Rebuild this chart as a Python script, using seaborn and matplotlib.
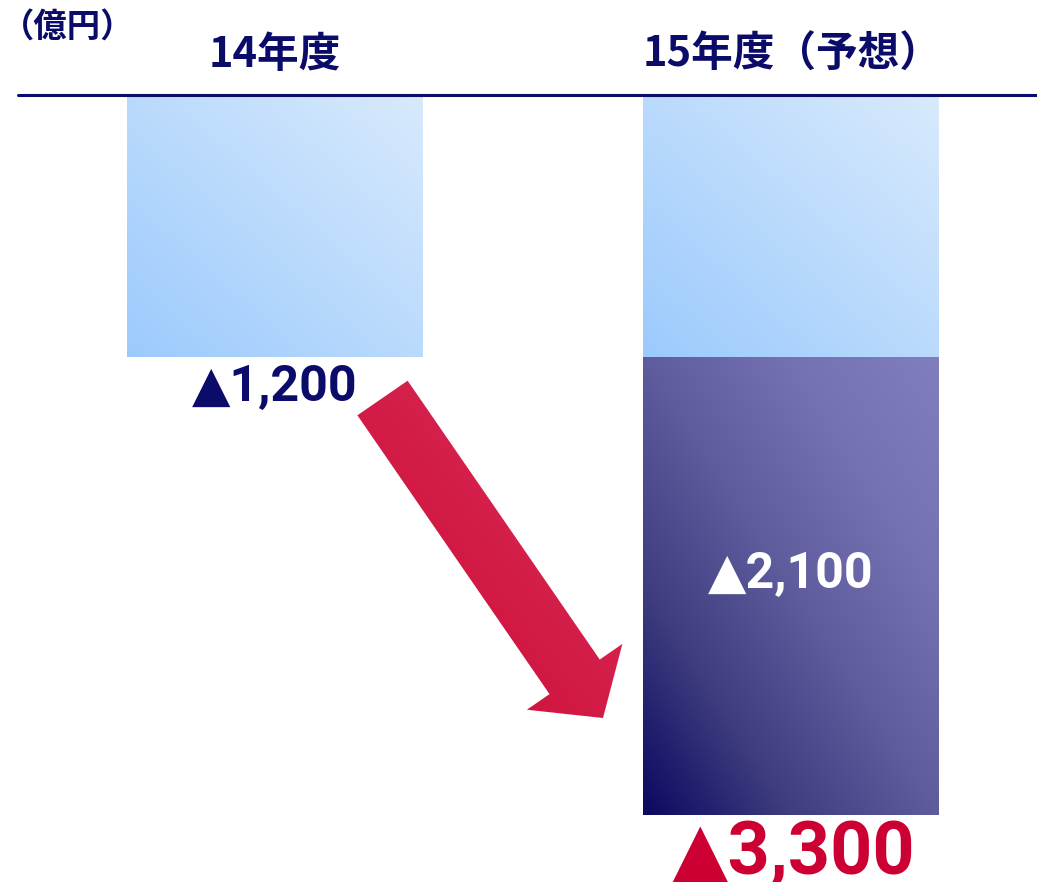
import numpy as np
import pandas as pd
import matplotlib
matplotlib.use("Agg")
import matplotlib.pyplot as plt
import seaborn as sns
from matplotlib.patches import FancyArrow
from matplotlib.colors import LinearSegmentedColormap

# 損失額（億円）
years = ["14年度", "15年度（予想）"]
base_loss = [1200, 1200]     # 14年度水準
added_loss = [0, 2100]       # 15年度の追加分
total_loss = [b + a for b, a in zip(base_loss, added_loss)]
unit_label = "（億円）"
value_labels = ["▲1,200", "▲2,100", "▲3,300"]

NAVY = "#0b0b6a"
RED = "#cc0033"

sns.set_theme(style="white")
plt.rcParams["font.family"] = ["Noto Sans CJK JP", "DejaVu Sans"]
NUM_FONT = ["Roboto", "DejaVu Sans"]

W, H, DPI = 1037, 882, 100
fig = plt.figure(figsize=(W / DPI, H / DPI), dpi=DPI)
fig.patch.set_facecolor("white")

# main axes: top edge is the zero line, values grow downward
ax = fig.add_axes([18 / W, 0, 1 - 18 / W, 1 - 95 / H])
df = pd.DataFrame({"year": years, "base": base_loss, "total": total_loss})

BAR_W = 0.572
sns.barplot(data=df, x="year", y="total", width=BAR_W, color="#5b5aa0",
            ax=ax, errorbar=None, zorder=1)
n_total = len(ax.patches)
sns.barplot(data=df, x="year", y="base", width=BAR_W, color="#b5d8fd",
            ax=ax, errorbar=None, zorder=2)
total_bars = ax.patches[:n_total]
base_bars = ax.patches[n_total:]


def diag_ramp(n=256):
    # diagonal ramp: 0 at lower-left corner, 1 at upper-right corner
    col, row = np.meshgrid(np.linspace(0, 1, n), np.linspace(0, 1, n))
    return (col + (1 - row)) / 2


def gradient_fill(axis, patch, y_top, y_bottom, stops, z):
    cmap = LinearSegmentedColormap.from_list("g", stops)
    x0 = patch.get_x()
    x1 = x0 + patch.get_width()
    im = axis.imshow(diag_ramp(), cmap=cmap, vmin=0, vmax=1, aspect="auto",
                     extent=(x0, x1, y_bottom, y_top), origin="upper",
                     interpolation="bilinear", zorder=z)
    im.set_clip_path(patch)
    patch.set_facecolor("none")
    patch.set_edgecolor("none")


LIGHT_STOPS = [(0.0, "#9ccafc"), (1.0, "#d8eafd")]
DARK_STOPS = [(0.0, "#0a0960"), (0.25, "#3f3d7f"), (0.5, "#5e5c9d"),
              (0.75, "#7472b2"), (1.0, "#807ebd")]

for i, p in enumerate(total_bars):
    if added_loss[i] > 0:
        gradient_fill(ax, p, base_loss[i], total_loss[i], DARK_STOPS, 1)
    else:
        p.set_facecolor("none")
        p.set_edgecolor("none")
for i, p in enumerate(base_bars):
    gradient_fill(ax, p, 0, base_loss[i], LIGHT_STOPS, 2)

ax.set_xlim(-0.497, 1.478)
ax.set_ylim(3607, 0)
ax.axis("off")
ax.axhline(0, color=NAVY, lw=2.2, clip_on=False, zorder=5)

# column headers
for i, name in enumerate(years):
    ax.annotate(name, xy=(i, 0), xytext=(1 if i else 0, 29),
                textcoords="offset points", ha="center", va="center",
                fontsize=30, fontweight="bold", color=NAVY,
                annotation_clip=False)

fig.text(1 / W, 1 - 27 / H, unit_label, ha="left", va="center",
         fontsize=24, fontweight="bold", color=NAVY)

# value labels
ax.annotate(value_labels[0], xy=(0, base_loss[0]), xytext=(0, -22),
            textcoords="offset points", ha="center", va="center",
            fontsize=36, fontweight="bold", color=NAVY, family=NUM_FONT)
ax.annotate(value_labels[1], xy=(1, base_loss[1] + added_loss[1] / 2),
            xytext=(0, 8), textcoords="offset points", ha="center",
            va="center", fontsize=36, fontweight="bold", color="white",
            family=NUM_FONT)
ax.annotate(value_labels[2], xy=(1, total_loss[1]), xytext=(2, -42),
            textcoords="offset points", ha="center", va="baseline",
            fontsize=53, fontweight="bold", color=RED, family=NUM_FONT,
            annotation_clip=False)

# increase arrow between the two columns (overlay in pixel units)
ov = fig.add_axes([0, 0, 1, 1])
ov.set_xlim(0, W)
ov.set_ylim(H, 0)
ov.axis("off")
tail = (382.5, 398.0)
tip = (603.0, 718.0)
arrow = FancyArrow(tail[0], tail[1], tip[0] - tail[0], tip[1] - tail[1],
                   width=61, head_width=116, head_length=50,
                   length_includes_head=True, facecolor="none",
                   edgecolor="none")
ov.add_patch(arrow)
red_cmap = LinearSegmentedColormap.from_list("r", ["#cc0633", "#d9335b"])
rim = ov.imshow(diag_ramp(), cmap=red_cmap, vmin=0, vmax=1,
                aspect="auto", extent=(350, 630, 725, 375), origin="upper",
                interpolation="bilinear")
rim.set_clip_path(arrow)
ov.set_xlim(0, W)
ov.set_ylim(H, 0)

fig.savefig("out.png", dpi=DPI)
